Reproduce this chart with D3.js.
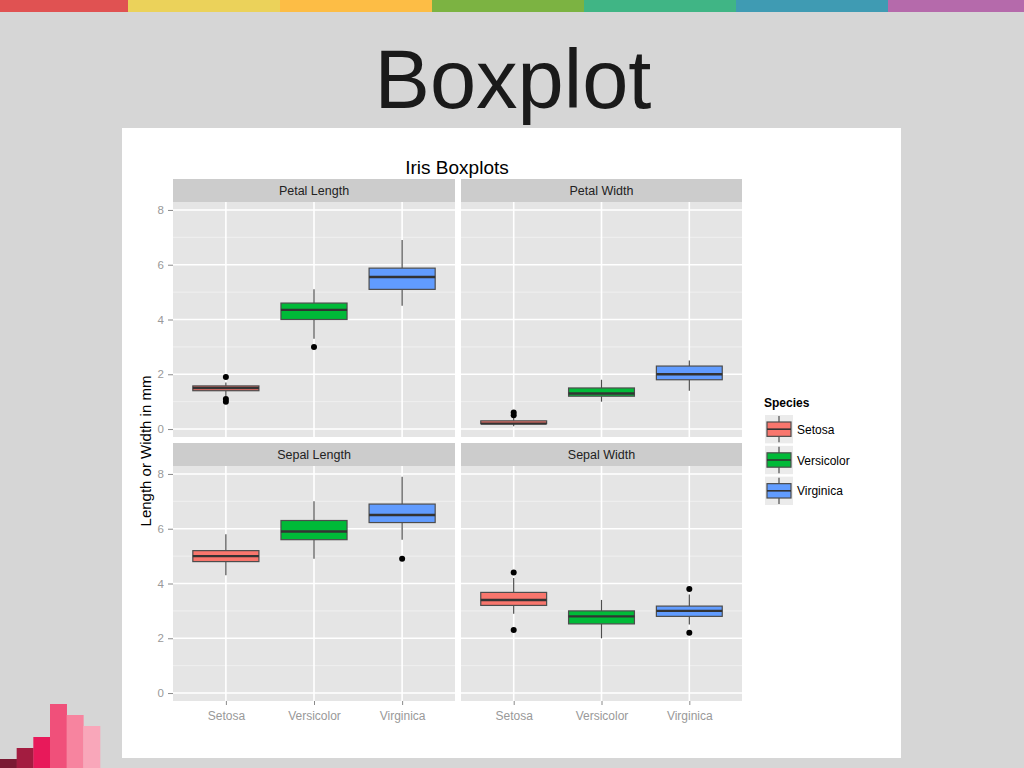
<!DOCTYPE html>
<html><head><meta charset="utf-8">
<script src="https://cdn.jsdelivr.net/npm/d3@7"></script>
<style>body{margin:0;background:#d6d6d6;}svg{display:block;font-family:"Liberation Sans",Arial,sans-serif;}</style>
</head><body><svg id="c" width="1024" height="768"></svg>
<script>
// ---- data ----
const species = ["Setosa", "Versicolor", "Virginica"];
const measures = ["Petal Length", "Petal Width", "Sepal Length", "Sepal Width"];
const yTicks = [0, 2, 4, 6, 8];
const yMinor = [1, 3, 5, 7];
// [lowWhisker, Q1, median, Q3, highWhisker] per species
const petalLengthStats = [[1.2, 1.4, 1.5, 1.575, 1.7], [3.3, 4.0, 4.35, 4.6, 5.1], [4.5, 5.1, 5.55, 5.875, 6.9]];
const petalWidthStats  = [[0.1, 0.2, 0.2, 0.3, 0.4], [1.0, 1.2, 1.3, 1.5, 1.8], [1.4, 1.8, 2.0, 2.3, 2.5]];
const sepalLengthStats = [[4.3, 4.8, 5.0, 5.2, 5.8], [4.9, 5.6, 5.9, 6.3, 7.0], [5.6, 6.225, 6.5, 6.9, 7.9]];
const sepalWidthStats  = [[2.9, 3.2, 3.4, 3.675, 4.2], [2.0, 2.525, 2.8, 3.0, 3.4], [2.5, 2.8, 3.0, 3.175, 3.6]];
const petalLengthOut = [[1.0, 1.1, 1.9], [3.0], []];
const petalWidthOut  = [[0.5, 0.6], [], []];
const sepalLengthOut = [[], [], [4.9]];
const sepalWidthOut  = [[2.3, 4.4], [], [2.2, 3.8]];
const speciesColors = ["#F8766D", "#00BA38", "#619CFF"];
const topBarColors = ["#e05252", "#ebd25a", "#fdbd45", "#7cb342", "#40b585", "#3f9bb3", "#b56aab"];
const decoHeights = [9, 20, 31, 64, 53, 42];
const decoColors = ["#7a1a33", "#a31c40", "#e8195a", "#f0507a", "#f7849f", "#f9a7ba"];

const allStats = [petalLengthStats, petalWidthStats, sepalLengthStats, sepalWidthStats];
const allOut = [petalLengthOut, petalWidthOut, sepalLengthOut, sepalWidthOut];

const svg = d3.select("#c");

// top colour strip
const tb = d3.scaleBand().domain(d3.range(topBarColors.length)).range([-24, 1040]);
svg.selectAll(".tb").data(topBarColors).join("rect")
  .attr("x", (d, i) => tb(i)).attr("y", 0).attr("width", tb.bandwidth() + 0.5).attr("height", 12).attr("fill", d => d);

// slide title
svg.append("text").attr("x", 513).attr("y", 108).attr("text-anchor", "middle")
  .attr("font-size", 83).attr("fill", "#1a1a1a").text("Boxplot");

// decoration bars bottom-left
const db = d3.scaleBand().domain(d3.range(decoHeights.length)).range([0, 100]);
svg.selectAll(".db").data(decoHeights).join("rect")
  .attr("x", (d, i) => db(i)).attr("y", d => 768 - d).attr("width", db.bandwidth() + 0.3)
  .attr("height", d => d).attr("fill", (d, i) => decoColors[i]);

// white chart area
svg.append("rect").attr("x", 122).attr("y", 128).attr("width", 779).attr("height", 630).attr("fill", "#fff");

svg.append("text").attr("x", 457).attr("y", 174).attr("text-anchor", "middle")
  .attr("font-size", 19).attr("fill", "#000").text("Iris Boxplots");

// panels
const panelX = [[173, 455], [461, 742]];
const panelY = [[202, 437], [466, 701]];
const stripH = 23;

measures.forEach((m, mi) => {
  const col = mi % 2, row = Math.floor(mi / 2);
  const [x0, x1] = panelX[col], [y0, y1] = panelY[row];
  const x = d3.scalePoint().domain(species).range([x0, x1]).padding(0.6);
  const y = d3.scaleLinear().domain([-0.29, 8.29]).range([y1, y0]);
  const g = svg.append("g");
  // strip
  g.append("rect").attr("x", x0).attr("y", y0 - stripH).attr("width", x1 - x0).attr("height", stripH).attr("fill", "#cccccc");
  g.append("text").attr("x", (x0 + x1) / 2).attr("y", y0 - stripH / 2 + 4.5).attr("text-anchor", "middle")
    .attr("font-size", 12.5).attr("fill", "#222").text(m);
  // panel bg
  g.append("rect").attr("x", x0).attr("y", y0).attr("width", x1 - x0).attr("height", y1 - y0).attr("fill", "#e5e5e5");
  g.selectAll(".mn").data(yMinor).join("line")
    .attr("x1", x0).attr("x2", x1).attr("y1", d => y(d)).attr("y2", d => y(d))
    .attr("stroke", "#f2f2f2").attr("stroke-width", 0.8);
  g.selectAll(".mj").data(yTicks).join("line")
    .attr("x1", x0).attr("x2", x1).attr("y1", d => y(d)).attr("y2", d => y(d))
    .attr("stroke", "#fff").attr("stroke-width", 1.6);
  g.selectAll(".vx").data(species).join("line")
    .attr("x1", d => x(d)).attr("x2", d => x(d)).attr("y1", y0).attr("y2", y1)
    .attr("stroke", "#fff").attr("stroke-width", 1.6);

  // boxes
  const bw = x.step() * 0.75;
  const stats = allStats[mi];
  species.forEach((s, si) => {
    const [lo, q1, med, q3, hi] = stats[si];
    const cx = x(s);
    g.append("line").attr("x1", cx).attr("x2", cx).attr("y1", y(hi)).attr("y2", y(q3)).attr("stroke", "#4d4d4d").attr("stroke-width", 1.2);
    g.append("line").attr("x1", cx).attr("x2", cx).attr("y1", y(q1)).attr("y2", y(lo)).attr("stroke", "#4d4d4d").attr("stroke-width", 1.2);
    g.append("rect").attr("x", cx - bw / 2).attr("y", y(q3)).attr("width", bw).attr("height", Math.max(y(q1) - y(q3), 0.1))
      .attr("fill", speciesColors[si]).attr("stroke", "#4d4d4d").attr("stroke-width", 1.2);
    g.append("line").attr("x1", cx - bw / 2).attr("x2", cx + bw / 2).attr("y1", y(med)).attr("y2", y(med))
      .attr("stroke", "#333").attr("stroke-width", 2.4);
    g.selectAll(null).data(allOut[mi][si]).join("circle")
      .attr("cx", cx).attr("cy", d => y(d)).attr("r", 3).attr("fill", "#000");
  });

  // y axis (left column only)
  if (col === 0) {
    const ax = g.append("g").attr("transform", `translate(${x0},0)`)
      .call(d3.axisLeft(y).tickValues(yTicks).tickSize(5).tickPadding(4).tickFormat(d3.format("d")));
    ax.select(".domain").remove();
    ax.selectAll("line").attr("stroke", "#8a8a8a");
    ax.selectAll("text").attr("fill", "#999").attr("font-size", 11.5).attr("font-family", "Liberation Sans, Arial, sans-serif");
  }
  // x axis (bottom row only)
  if (row === 1) {
    const ax = g.append("g").attr("transform", `translate(0,${y1})`)
      .call(d3.axisBottom(x).tickSize(4).tickPadding(6));
    ax.select(".domain").remove();
    ax.selectAll("line").attr("stroke", "#8a8a8a");
    ax.selectAll("text").attr("fill", "#999").attr("font-size", 12).attr("font-family", "Liberation Sans, Arial, sans-serif");
  }
});

// y axis title
svg.append("text").attr("transform", "translate(151,451) rotate(-90)").attr("text-anchor", "middle")
  .attr("font-size", 15).attr("fill", "#000").text("Length or Width in mm");

// legend
const lg = svg.append("g");
lg.append("text").attr("x", 764).attr("y", 407).attr("font-size", 12).attr("font-weight", "bold").attr("fill", "#000").text("Species");
const ly = d3.scaleBand().domain(species).range([415, 505]).paddingInner(0.08);
species.forEach((s, si) => {
  const ky = ly(s), kh = ly.bandwidth();
  lg.append("rect").attr("x", 765).attr("y", ky).attr("width", 28).attr("height", kh).attr("fill", "#ebebeb");
  lg.append("line").attr("x1", 779).attr("x2", 779).attr("y1", ky + 1).attr("y2", ky + kh - 1).attr("stroke", "#4d4d4d").attr("stroke-width", 1.2);
  lg.append("rect").attr("x", 767).attr("y", ky + 7).attr("width", 24).attr("height", kh - 14)
    .attr("fill", speciesColors[si]).attr("stroke", "#4d4d4d").attr("stroke-width", 1.2);
  lg.append("line").attr("x1", 767).attr("x2", 791).attr("y1", ky + kh / 2).attr("y2", ky + kh / 2).attr("stroke", "#333").attr("stroke-width", 1.6);
  lg.append("text").attr("x", 797).attr("y", ky + kh / 2 + 4.5).attr("font-size", 12).attr("fill", "#000").text(s);
});
</script></body></html>
